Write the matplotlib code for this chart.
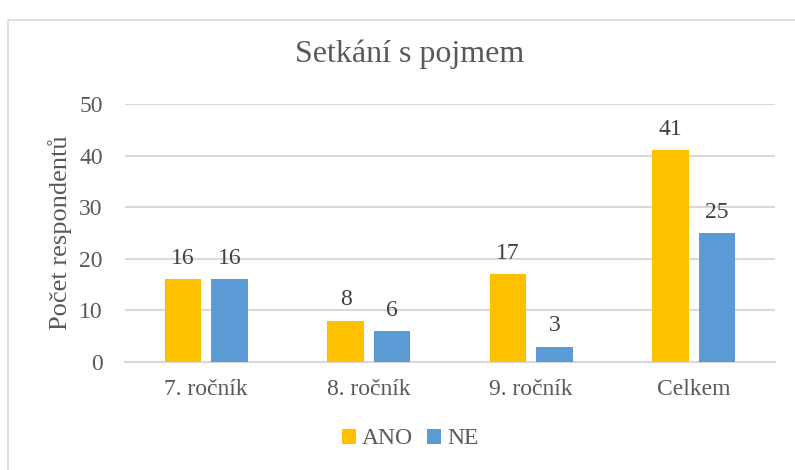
import numpy as np
import matplotlib.pyplot as plt
from matplotlib.patches import Rectangle

categories = ["7. ročník", "8. ročník", "9. ročník", "Celkem"]
ano = [16, 8, 17, 41]
ne = [16, 6, 3, 25]

plt.rcParams['font.family'] = ['Liberation Serif', 'DejaVu Serif']
txt = '#595959'

fig = plt.figure(figsize=(7.95, 4.70), dpi=100)
# chart frame (top and left edges visible)
fig.patches.append(Rectangle((8/795, -0.05), 1.0, 1 - 20/470 + 0.05, transform=fig.transFigure,
                             fill=False, edgecolor='#d9d9d9', linewidth=1.2))
ax = fig.add_axes([125/795, 1 - 362/470, 650/795, 258/470])

x = np.arange(len(categories))
w = 0.225
gap = 0.06
b1 = ax.bar(x - (w + gap)/2, ano, w, color='#ffc000', label='ANO', zorder=3)
b2 = ax.bar(x + (w + gap)/2, ne, w, color='#5b9bd5', label='NE', zorder=3)

for bars in (b1, b2):
    for r in bars:
        ax.text(r.get_x() + r.get_width()/2, r.get_height() + 2.0, f"{int(r.get_height())}",
                ha='center', va='bottom', fontsize=17, color='#404040')

ax.set_ylim(0, 50)
ax.set_xlim(-0.5, 3.5)
ax.set_yticks(range(0, 51, 10))
ax.yaxis.grid(True, color='#d9d9d9', linewidth=1.5, zorder=0)
ax.set_axisbelow(True)
for s in ['top', 'right', 'left']:
    ax.spines[s].set_visible(False)
ax.spines['bottom'].set_color('#d9d9d9')
ax.spines['bottom'].set_linewidth(1.5)
ax.tick_params(axis='both', length=0, labelsize=17, labelcolor=txt)
ax.tick_params(axis='y', pad=16)
ax.tick_params(axis='x', pad=12)
ax.set_xticks(x)
ax.set_xticklabels(categories)
ax.set_ylabel("Počet respondentů", fontsize=19, color=txt)
ax.yaxis.set_label_coords(-0.082, 0.5)

fig.text(410/795, 1 - 54/470, "Setkání s pojmem", ha='center', va='center', fontsize=23, color=txt)

fig.legend(handles=[b1, b2], labels=['ANO', 'NE'], loc='center', bbox_to_anchor=(410/795, 1 - 439/470),
           ncol=2, frameon=False, fontsize=17, handlelength=0.6, handleheight=0.6,
           handletextpad=0.25, columnspacing=0.6, labelcolor=txt)

fig.savefig('out.png', dpi=100)
